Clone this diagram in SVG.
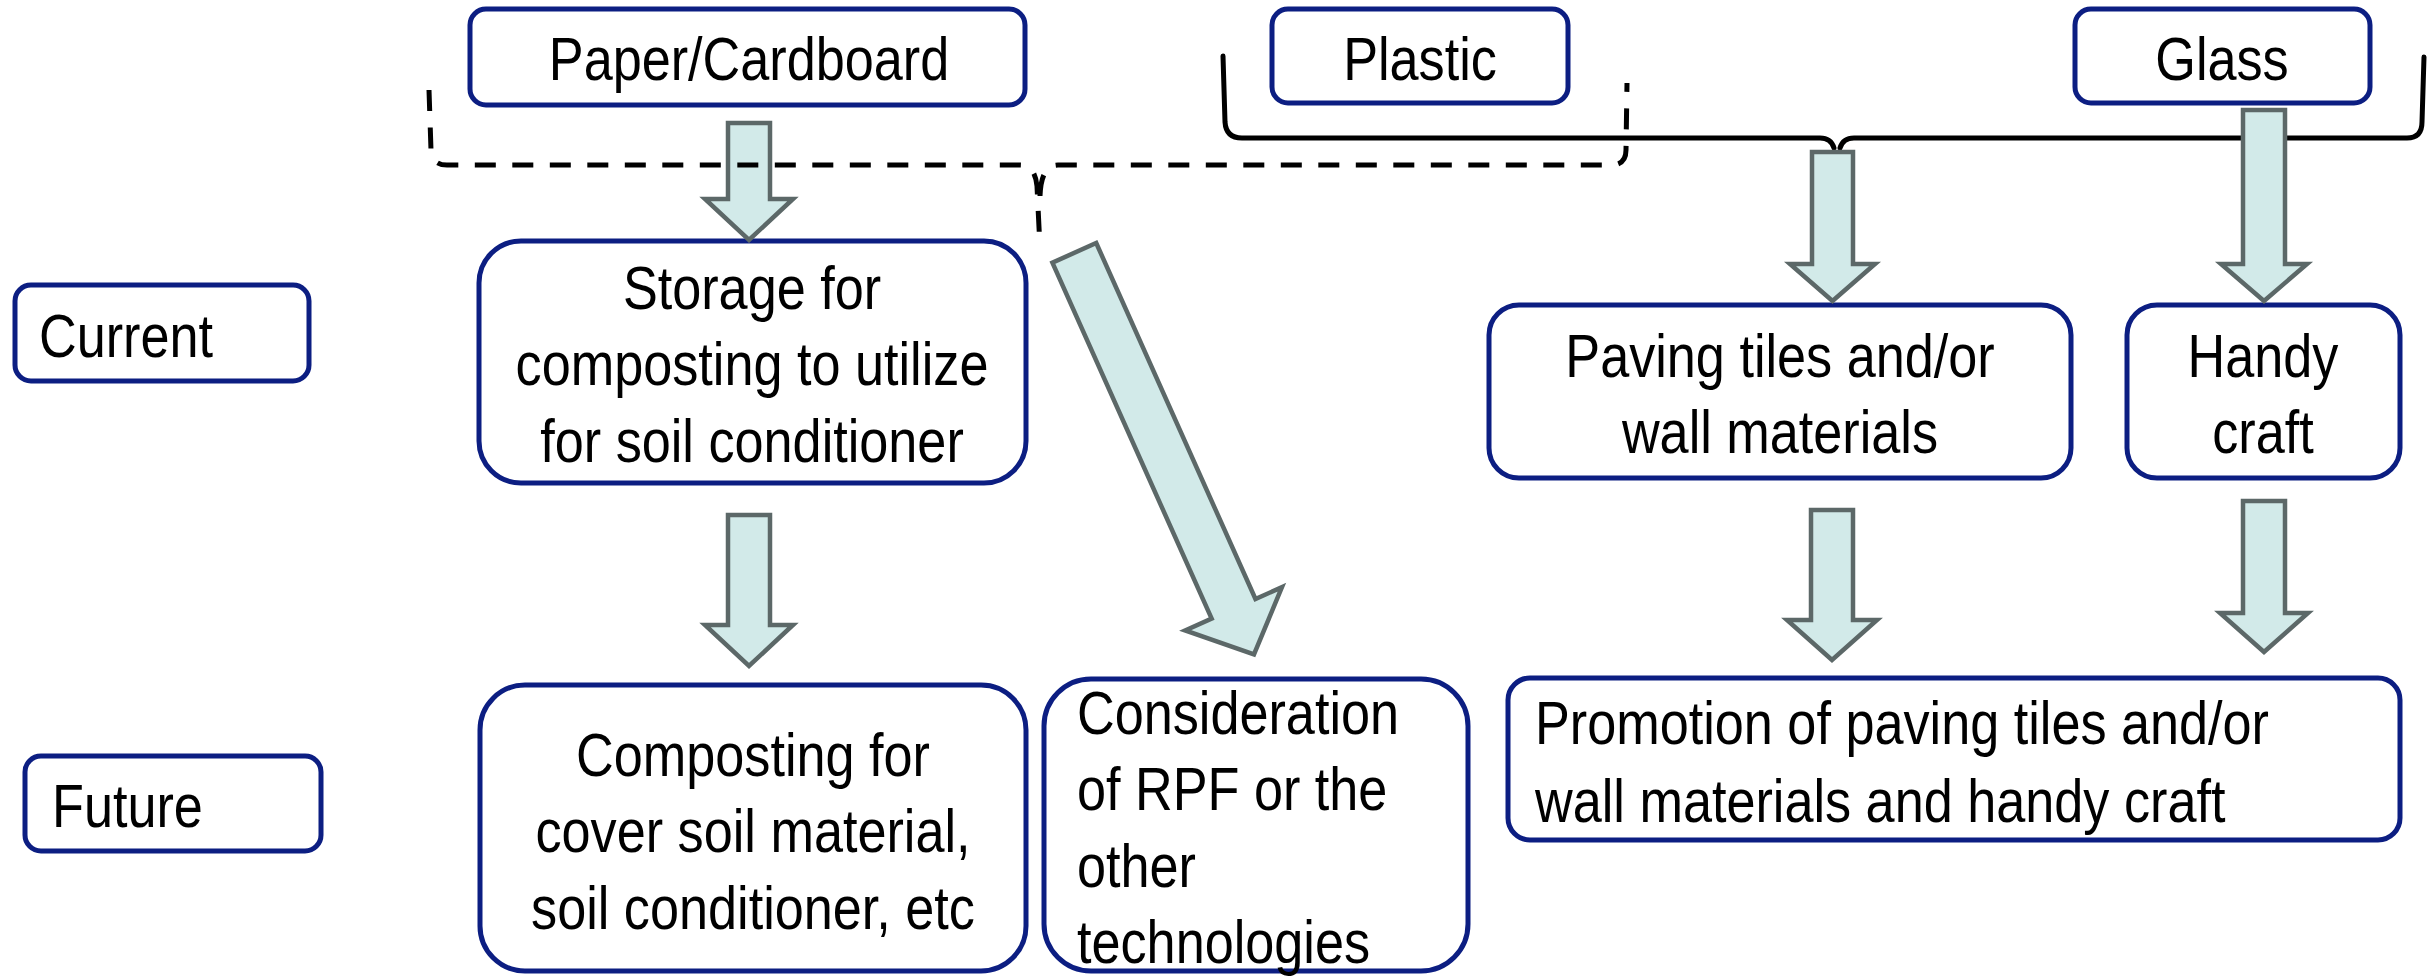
<svg xmlns="http://www.w3.org/2000/svg" width="2436" height="976" viewBox="0 0 2436 976">
<style>
.box{fill:#ffffff;stroke:#0c1e82;stroke-width:5}
.t{font-family:"Liberation Sans",Arial,sans-serif;font-size:62px;fill:#000000}
.c{text-anchor:middle}
.arr{fill:#d2eae9;stroke:#5c6868;stroke-width:4.5;stroke-miterlimit:10}
.brace{fill:none;stroke:#000000;stroke-width:5;stroke-linecap:round;stroke-linejoin:round}
.dash{stroke-dasharray:21 16.5;stroke-linecap:butt}
</style>
<rect width="2436" height="976" fill="#ffffff"/>

<g id="node-paper">
<rect class="box" x="470" y="9" width="555" height="96" rx="16"/>
<text class="t c" transform="translate(749,80) scale(0.842,1)">Paper/Cardboard</text>
</g>
<g id="node-plastic">
<rect class="box" x="1272" y="9" width="296" height="94" rx="16"/>
<text class="t c" transform="translate(1420,80) scale(0.842,1)">Plastic</text>
</g>
<g id="node-glass">
<rect class="box" x="2075" y="9" width="295" height="94" rx="16"/>
<text class="t c" transform="translate(2222,80) scale(0.842,1)">Glass</text>
</g>
<g id="node-current">
<rect class="box" x="15" y="285" width="294" height="96" rx="16"/>
<text class="t" transform="translate(39,357) scale(0.842,1)">Current</text>
</g>
<g id="node-future">
<rect class="box" x="25" y="756" width="296" height="95" rx="16"/>
<text class="t" transform="translate(52,827) scale(0.842,1)">Future</text>
</g>
<g id="node-storage">
<rect class="box" x="479" y="241" width="547" height="242" rx="42"/>
<text class="t c" transform="translate(752,309) scale(0.842,1)"><tspan x="0" y="0">Storage for</tspan><tspan x="0" y="76.5">composting to utilize</tspan><tspan x="0" y="153">for soil conditioner</tspan></text>
</g>
<g id="node-composting">
<rect class="box" x="480" y="685" width="546" height="286" rx="45"/>
<text class="t c" transform="translate(753,776) scale(0.842,1)"><tspan x="0" y="0">Composting for</tspan><tspan x="0" y="76.5">cover soil material,</tspan><tspan x="0" y="153">soil conditioner, etc</tspan></text>
</g>
<g id="node-rpf">
<rect class="box" x="1044" y="679" width="424" height="292" rx="47"/>
<text class="t" transform="translate(1077,734) scale(0.842,1)"><tspan x="0" y="0">Consideration</tspan><tspan x="0" y="76.5">of RPF or the</tspan><tspan x="0" y="153">other</tspan><tspan x="0" y="229">technologies</tspan></text>
</g>
<g id="node-paving">
<rect class="box" x="1489" y="305" width="582" height="173" rx="30"/>
<text class="t c" transform="translate(1780,377) scale(0.842,1)"><tspan x="0" y="0">Paving tiles and/or</tspan><tspan x="0" y="76.5">wall materials</tspan></text>
</g>
<g id="node-handy">
<rect class="box" x="2127" y="305" width="273" height="173" rx="30"/>
<text class="t c" transform="translate(2263,377) scale(0.842,1)"><tspan x="0" y="0">Handy</tspan><tspan x="0" y="76.5">craft</tspan></text>
</g>
<g id="node-promotion">
<rect class="box" x="1508" y="678" width="892" height="162" rx="22"/>
<text class="t" transform="translate(1535,744) scale(0.842,1)"><tspan x="0" y="0">Promotion of paving tiles and/or</tspan><tspan x="0" y="78">wall materials and handy craft</tspan></text>
</g>

<g id="connectors">
<polygon class="arr" points="728,123 770,123 770,199 793,199 749,240 705,199 728,199"/>
<path class="brace dash" d="M429,90 L431,150 Q432,165 447,165 L1020,165 Q1035,165 1037,186 L1040,248 M1040,196 Q1041,165 1058,165 L1611,165 Q1626,165 1626,150 L1627,83"/>
<path class="brace" d="M1223,56 L1225,122 Q1226,138 1242,138 L1820,138 Q1831,138 1834,148 M1840,148 Q1843,138 1854,138 L2407,138 Q2422,138 2422,122 L2424,57"/>
<polygon class="arr" points="728,515 770,515 770,625 793,625 749,666 705,625 728,625"/>
<polygon class="arr" transform="translate(1073.5,251) rotate(65.9)" points="2,-24 392,-24 392,-53 442,0 392,53 392,24 2,24"/>
<polygon class="arr" points="1812,152 1853,152 1853,264 1875,264 1832.5,301 1790,264 1812,264"/>
<polygon class="arr" points="2243,110 2285,110 2285,264 2307,264 2264,301 2221,264 2243,264"/>
<polygon class="arr" points="1811,510 1853,510 1853,620 1877,620 1832,660 1787,620 1811,620"/>
<polygon class="arr" points="2243,501 2285,501 2285,613 2308,613 2264,652 2220,613 2243,613"/>
</g>
</svg>
